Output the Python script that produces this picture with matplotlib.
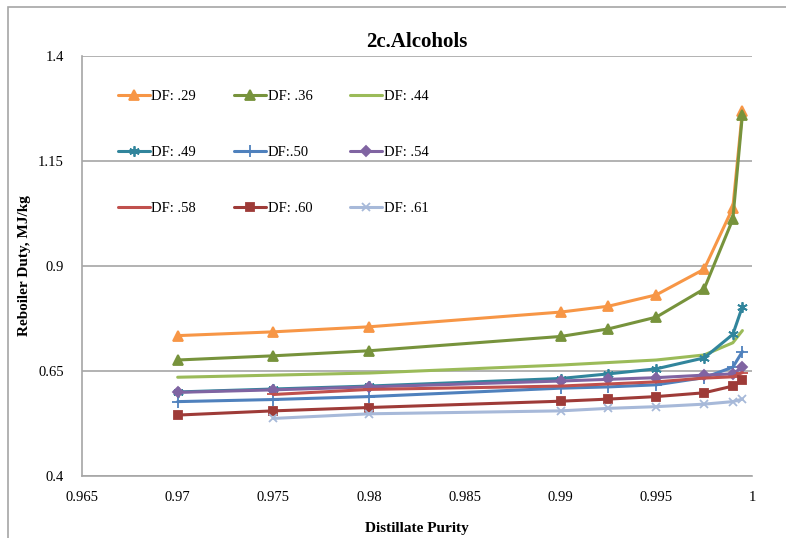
import matplotlib

matplotlib.use("Agg")
import matplotlib.pyplot as plt  # noqa: E402
from matplotlib.patches import Rectangle  # noqa: E402

plt.rcParams["font.family"] = ["Liberation Serif", "DejaVu Serif"]

# Distillate purity points
purity_full = [0.97, 0.975, 0.98, 0.99, 0.9925, 0.995, 0.9975, 0.999, 0.9995]
purity_short = [0.975, 0.98, 0.99, 0.9925, 0.995, 0.9975, 0.999, 0.9995]

# Reboiler duty, MJ/kg
df_29 = [0.734, 0.743, 0.755, 0.790, 0.804, 0.831, 0.892, 1.038, 1.268]
df_36 = [0.676, 0.686, 0.698, 0.732, 0.750, 0.778, 0.845, 1.011, 1.259]
df_44 = [0.635, 0.640, 0.645, 0.664, 0.670, 0.676, 0.688, 0.717, 0.746]
df_49 = [0.600, 0.607, 0.614, 0.632, 0.643, 0.655, 0.681, 0.737, 0.803]
df_50 = [0.577, 0.582, 0.589, 0.609, 0.612, 0.617, 0.634, 0.659, 0.696]
df_54 = [0.599, 0.605, 0.612, 0.626, 0.630, 0.634, 0.640, 0.643, 0.659]
df_58 = [0.594, 0.606, 0.614, 0.619, 0.624, 0.633, 0.636, 0.646]
df_60 = [0.545, 0.555, 0.563, 0.578, 0.583, 0.589, 0.598, 0.614, 0.628]
df_61 = [0.537, 0.548, 0.555, 0.561, 0.565, 0.571, 0.577, 0.583]

# (label, x, y, colour, marker, marker size)
SERIES = [
    ("DF: .29", purity_full, df_29, "#F79646", "^", 6.5),
    ("DF: .36", purity_full, df_36, "#77933C", "^", 6.5),
    ("DF: .44", purity_full, df_44, "#9BBB59", "None", 0),
    ("DF: .49", purity_full, df_49, "#31859C", (6, 2, 0), 7.5),
    ("DF:.50", purity_full, df_50, "#4F81BD", "+", 9),
    ("DF: .54", purity_full, df_54, "#8064A2", "D", 5),
    ("DF: .58", purity_short, df_58, "#C0504D", "_", 8),
    ("DF: .60", purity_full, df_60, "#9E3B38", "s", 6),
    ("DF: .61", purity_short, df_61, "#A7B9D9", "x", 6),
]

fig = plt.figure(figsize=(7.86, 5.38), dpi=100)
ax = fig.add_axes([0.1043, 0.1152, 0.8524, 0.7813])

handles = []
for label, xs, ys, color, marker, ms in SERIES:
    (line,) = ax.plot(
        xs,
        ys,
        color=color,
        linewidth=2.2,
        marker=marker,
        markersize=ms,
        markeredgewidth=1.3,
        markeredgecolor=color,
        markerfacecolor=color,
        label=label,
        solid_capstyle="round",
        zorder=3,
    )
    handles.append(line)

ax.set_xlim(0.965, 1.0)
ax.set_ylim(0.4, 1.4)
ax.set_xticks([0.965, 0.97, 0.975, 0.98, 0.985, 0.99, 0.995, 1.0])
ax.set_xticklabels(["0.965", "0.97", "0.975", "0.98", "0.985", "0.99", "0.995", "1"])
ax.set_yticks([0.4, 0.65, 0.9, 1.15, 1.4])
ax.set_yticklabels(["0.4", "0.65", "0.9", "1.15", "1.4"])
ax.tick_params(axis="both", length=0, labelsize=10.5, colors="black")
ax.tick_params(axis="x", pad=11)
ax.tick_params(axis="y", pad=13)

ax.yaxis.grid(True, color="#A6A6A6", linewidth=1.2)
ax.set_axisbelow(True)
for side in ["top", "right"]:
    ax.spines[side].set_visible(False)
for side in ["left", "bottom"]:
    ax.spines[side].set_color("#A6A6A6")
    ax.spines[side].set_linewidth(1.2)

ax.set_title("2c.Alcohols", fontsize=15, fontweight="bold", pad=6)
ax.set_xlabel("Distillate Purity", fontsize=11, fontweight="bold", labelpad=13)
ax.set_ylabel("Reboiler Duty, MJ/kg", fontsize=11, fontweight="bold", labelpad=5)

# legend is filled row by row in the reference, matplotlib fills columns
order = [0, 3, 6, 1, 4, 7, 2, 5, 8]
ax.legend(
    [handles[i] for i in order],
    [SERIES[i][0] for i in order],
    loc="upper left",
    bbox_to_anchor=(0.034, 0.95),
    ncol=3,
    frameon=False,
    fontsize=10.5,
    handlelength=2.2,
    handletextpad=0.1,
    columnspacing=2.6,
    labelspacing=2.95,
)

fig.patches.append(
    Rectangle(
        (8 / 786, -0.1),
        1.2,
        (538 - 7) / 538 + 0.1,
        transform=fig.transFigure,
        fill=False,
        edgecolor="#A6A6A6",
        linewidth=1.2,
    )
)

fig.savefig("out.png", dpi=100, facecolor="white")
plt.close(fig)
